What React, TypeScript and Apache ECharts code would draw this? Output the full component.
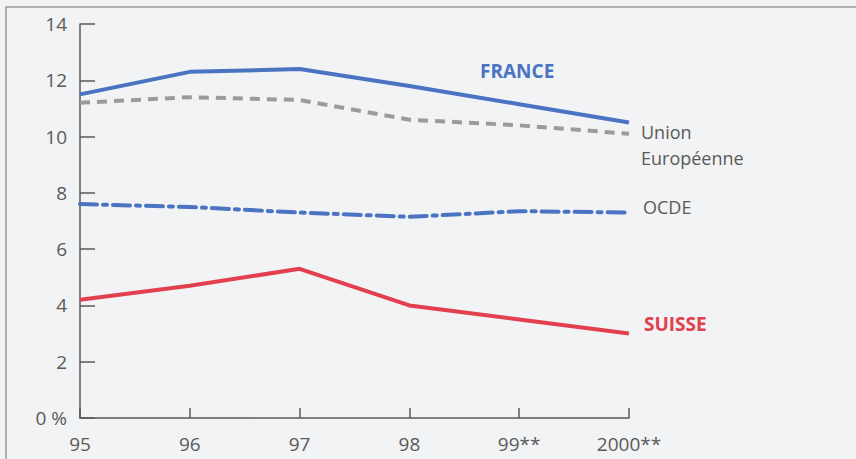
import React, { useEffect, useRef } from "react";
import * as echarts from "echarts";

const years = ["95", "96", "97", "98", "99**", "2000**"];
const france = [11.5, 12.3, 12.4, 11.8, 11.15, 10.5];
const unionEuropeenne = [11.2, 11.4, 11.3, 10.6, 10.4, 10.1];
const ocde = [7.6, 7.5, 7.3, 7.15, 7.35, 7.3];
const suisse = [4.2, 4.7, 5.3, 4.0, 3.5, 3.0];
const yTicks = [0, 2, 4, 6, 8, 10, 12, 14];

const BLUE = "#4a73c2";
const GRAY = "#9b9b9b";
const RED = "#e2404f";
const TEXT = "#5a5a5a";
const FONT = "'Open Sans', 'Noto Sans', sans-serif";

export default function App() {
  const ref = useRef<HTMLDivElement>(null);
  useEffect(() => {
    if (!ref.current) return;
    const chart = echarts.init(ref.current, null, { renderer: "svg" });
    chart.setOption({
      animation: false,
      backgroundColor: "#f1f3f4",
      grid: { left: 80, right: 227, top: 24, bottom: 41, containLabel: false },
      xAxis: {
        type: "category",
        data: years,
        boundaryGap: false,
        axisLine: { show: true, lineStyle: { color: TEXT, width: 1.5 } },
        axisTick: { show: true, inside: true, length: 10, lineStyle: { color: TEXT, width: 1.5 } },
        axisLabel: { color: TEXT, fontSize: 19, fontFamily: FONT, margin: 16, showMaxLabel: true, showMinLabel: true },
        splitLine: { show: false },
      },
      yAxis: {
        type: "value",
        min: yTicks[0],
        max: yTicks[yTicks.length - 1],
        interval: 2,
        axisLine: { show: true, lineStyle: { color: TEXT, width: 1.5 } },
        axisTick: { show: true, inside: true, length: 15, lineStyle: { color: TEXT, width: 1.5 } },
        axisLabel: {
          color: TEXT,
          fontSize: 19,
          fontFamily: FONT,
          margin: 13,
          formatter: (v: number) => (v === 0 ? "0 %" : String(v)),
        },
        splitLine: { show: false },
      },
      series: [
        {
          name: "Union Européenne",
          type: "line",
          data: unionEuropeenne,
          symbol: "none",
          lineStyle: { color: GRAY, width: 4, type: [10, 7] },
          z: 2,
        },
        {
          name: "OCDE",
          type: "line",
          data: ocde,
          symbol: "none",
          lineStyle: { color: BLUE, width: 4, type: [17, 6, 4, 6], cap: "round" },
          z: 2,
        },
        {
          name: "FRANCE",
          type: "line",
          data: france,
          symbol: "none",
          lineStyle: { color: BLUE, width: 4 },
          z: 3,
        },
        {
          name: "SUISSE",
          type: "line",
          data: suisse,
          symbol: "none",
          lineStyle: { color: RED, width: 4 },
          z: 3,
        },
      ],
      graphic: [
        {
          type: "rect",
          shape: { x: 6, y: 7, width: 900, height: 500 },
          style: { fill: "none", stroke: "#9a9a9a", lineWidth: 1.5 },
          silent: true,
          z: -1,
        },
        {
          type: "text",
          left: 480,
          top: 61,
          style: { text: "FRANCE", fill: BLUE, fontSize: 19, fontWeight: "bold", fontFamily: FONT },
        },
        {
          type: "text",
          left: 641,
          top: 119,
          style: { text: "Union\nEuropéenne", fill: TEXT, fontSize: 18, lineHeight: 26, fontFamily: FONT },
        },
        {
          type: "text",
          left: 643,
          top: 198,
          style: { text: "OCDE", fill: TEXT, fontSize: 18, fontFamily: FONT },
        },
        {
          type: "text",
          left: 644,
          top: 314,
          style: { text: "SUISSE", fill: RED, fontSize: 19, fontWeight: "bold", fontFamily: FONT },
        },
      ],
    });
    return () => chart.dispose();
  }, []);
  return <div ref={ref} style={{ width: 856, height: 459, position: "absolute", left: 0, top: 0 }} />;
}
